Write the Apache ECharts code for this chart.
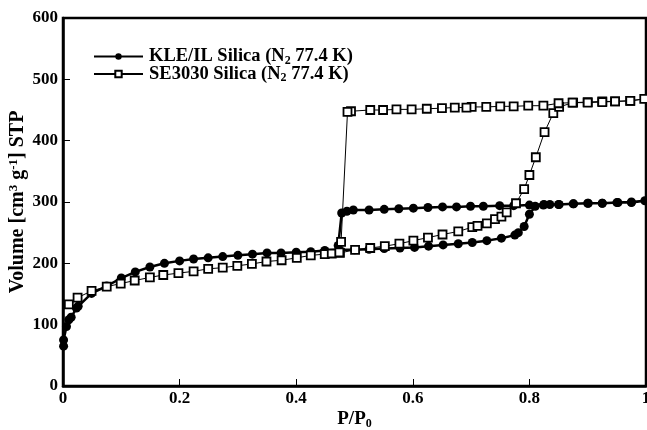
<!DOCTYPE html>
<html>
<head>
    <meta charset="UTF-8">
    <title>N2 isotherms</title>
    <script src="https://cdn.jsdelivr.net/npm/echarts@6/dist/echarts.min.js"></script>
</head>
<body style="margin:0">
<div id="main" style="width:647px;height:430px;"></div>
<script type="text/javascript">
    // series names
    var nameKLE = 'KLE/IL Silica (N2 77.4 K)';
    var nameSE = 'SE3030 Silica (N2 77.4 K)';

    // KLE/IL: adsorption branch then desorption branch, [P/P0, volume]
    var kleAds = [
        [0.001, 65], [0.001, 75], [0.006, 97], [0.010, 108], [0.014, 112], [0.023, 127],
        [0.026, 130], [0.049, 151], [0.075, 163], [0.100, 176], [0.124, 186], [0.149, 194],
        [0.174, 200], [0.200, 204], [0.224, 207], [0.249, 209], [0.274, 211], [0.300, 213],
        [0.325, 215], [0.350, 217], [0.374, 217], [0.400, 218], [0.425, 219], [0.449, 221],
        [0.474, 222], [0.500, 222], [0.525, 223], [0.551, 224], [0.578, 225], [0.603, 226],
        [0.627, 228], [0.652, 230], [0.678, 232], [0.702, 234], [0.727, 237], [0.752, 241],
        [0.775, 246], [0.781, 250], [0.791, 260], [0.800, 280], [0.810, 293], [0.824, 295],
        [0.835, 296], [0.851, 296], [0.876, 297], [0.901, 298], [0.925, 298], [0.952, 299],
        [0.975, 299], [0.998, 302]
    ];
    var kleDes = [
        [0.975, 300], [0.950, 299], [0.925, 298], [0.900, 298], [0.875, 297], [0.850, 296],
        [0.825, 296], [0.800, 295], [0.773, 294], [0.749, 294], [0.721, 293], [0.699, 293],
        [0.675, 292], [0.651, 292], [0.626, 291], [0.601, 290], [0.576, 289], [0.551, 288],
        [0.525, 287], [0.498, 287], [0.487, 285], [0.478, 282], [0.472, 229]
    ];

    // SE3030: adsorption branch then desorption branch
    var seAds = [
        [0.010, 133], [0.025, 144], [0.049, 155], [0.075, 162], [0.099, 167], [0.123, 172],
        [0.149, 177], [0.172, 181], [0.198, 184], [0.224, 187], [0.249, 191], [0.274, 193],
        [0.299, 196], [0.324, 199], [0.349, 203], [0.375, 205], [0.401, 209], [0.425, 213],
        [0.449, 215], [0.461, 216], [0.475, 217], [0.501, 222], [0.527, 225], [0.552, 228],
        [0.577, 232], [0.601, 237], [0.626, 242], [0.651, 247], [0.678, 252], [0.702, 259],
        [0.711, 261], [0.727, 265], [0.741, 272], [0.752, 276], [0.761, 283], [0.777, 298],
        [0.791, 321], [0.800, 344], [0.811, 373], [0.826, 414], [0.841, 445], [0.851, 455],
        [0.875, 462], [0.900, 463], [0.925, 464], [0.947, 464], [0.973, 465], [0.997, 468]
    ];
    var seDes = [
        [0.973, 465], [0.947, 464], [0.925, 463], [0.900, 462], [0.874, 462], [0.850, 461],
        [0.824, 457], [0.798, 457], [0.773, 456], [0.750, 456], [0.726, 455], [0.701, 455],
        [0.692, 454], [0.672, 454], [0.650, 453], [0.624, 452], [0.598, 451], [0.572, 451],
        [0.549, 450], [0.527, 450], [0.494, 448], [0.488, 447], [0.477, 235], [0.474, 218]
    ];

    var xTicks = { min: 0, max: 1, step: 0.2 };
    var yTicks = { min: 0, max: 600, step: 100 };

    var serif = 'Liberation Serif';
    var myChart = echarts.init(document.getElementById('main'));

    var option = {
        backgroundColor: '#ffffff',
        animation: false,
        grid: {
            left: 63, right: 1, top: 18, bottom: 44,
            outerBoundsMode: 'none',
            containLabel: false,
            show: true, borderColor: '#000', borderWidth: 2.5
        },
        legend: {
            orient: 'vertical',
            left: 88,
            top: 42,
            itemWidth: 49,
            itemHeight: 8,
            itemGap: -2,
            data: [nameKLE, nameSE],
            formatter: function (n) {
                return n === nameKLE
                    ? '{a|KLE/IL Silica (N}{s|2}{a| 77.4 K)}'
                    : '{a|SE3030 Silica (N}{s|2}{a| 77.4 K)}';
            },
            textStyle: {
                padding: [0, 0, 0, 1],
                rich: {
                    a: { fontFamily: serif, fontWeight: 'bold', fontSize: 18.5, lineHeight: 18, color: '#000' },
                    s: { fontFamily: serif, fontWeight: 'bold', fontSize: 12, color: '#000',
                         verticalAlign: 'bottom', padding: [8, 0, 0, 0] }
                }
            }
        },
        xAxis: {
            type: 'value',
            min: xTicks.min, max: xTicks.max, interval: xTicks.step,
            name: '{a|P/P}{s|0}',
            nameLocation: 'middle',
            nameGap: 23,
            nameMoveOverlap: false,
            nameTextStyle: {
                rich: {
                    a: { fontFamily: serif, fontWeight: 'bold', fontSize: 19, color: '#000' },
                    s: { fontFamily: serif, fontWeight: 'bold', fontSize: 12, color: '#000',
                         verticalAlign: 'bottom', padding: [9, 0, 0, 0] }
                }
            },
            axisLine: { onZero: false, lineStyle: { color: '#000', width: 2.5 } },
            axisTick: { inside: true, length: 7, lineStyle: { color: '#000', width: 1 } },
            axisLabel: { fontFamily: serif, fontWeight: 'bold', fontSize: 17, color: '#000', margin: 4 },
            splitLine: { show: false }
        },
        yAxis: {
            type: 'value',
            min: yTicks.min, max: yTicks.max, interval: yTicks.step,
            name: '{a|Volume [cm}{p|3}{a| g}{p|-1}{a|] STP}',
            nameLocation: 'middle',
            nameGap: 34,
            nameRotate: 90,
            nameMoveOverlap: false,
            nameTextStyle: {
                rich: {
                    a: { fontFamily: serif, fontWeight: 'bold', fontSize: 20, color: '#000' },
                    p: { fontFamily: serif, fontWeight: 'bold', fontSize: 13, color: '#000',
                         verticalAlign: 'top', padding: [0, 0, 9, 0] }
                }
            },
            axisLine: { lineStyle: { color: '#000', width: 2.5 } },
            axisTick: { inside: true, length: 7, lineStyle: { color: '#000', width: 1 } },
            axisLabel: { fontFamily: serif, fontWeight: 'bold', fontSize: 17, color: '#000', margin: 5 },
            splitLine: { show: false }
        },
        series: [
            {
                name: nameKLE,
                type: 'line',
                data: kleAds.concat(kleDes),
                symbol: 'circle',
                symbolSize: 9,
                showSymbol: true,
                color: '#000',
                lineStyle: { color: '#000', width: 2.5 },
                itemStyle: { color: '#000', borderColor: '#000', borderWidth: 0 }
            },
            {
                name: nameSE,
                type: 'line',
                data: seAds.concat(seDes),
                symbol: 'rect',
                symbolSize: 8,
                showSymbol: true,
                color: '#000',
                lineStyle: { color: '#000', width: 1 },
                itemStyle: { color: '#fff', borderColor: '#000', borderWidth: 1.8 }
            }
        ]
    };

    myChart.setOption(option);
</script>
</body>
</html>
